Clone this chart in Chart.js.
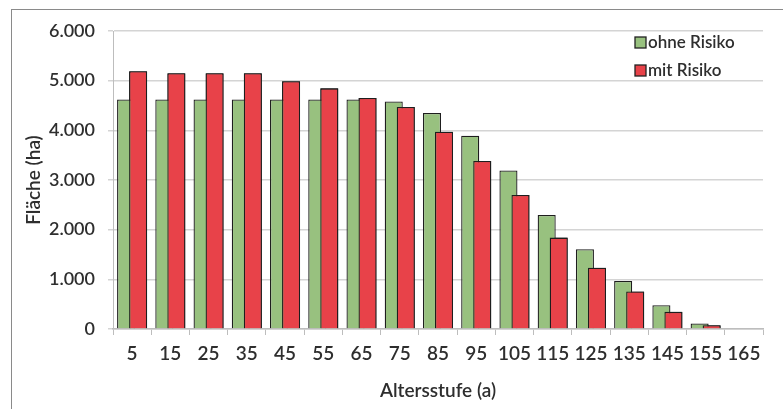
<!DOCTYPE html>
<html><head><meta charset="utf-8">
<script src="https://cdn.jsdelivr.net/npm/chart.js@4/dist/chart.umd.min.js"></script>
<style>
html,body{margin:0;padding:0;background:#fff;}
#wrap{position:relative;width:783px;height:409px;overflow:hidden;}
#frame{position:absolute;left:11px;top:9px;width:800px;height:420px;border:1.5px solid #8a8a8a;box-sizing:border-box;}
canvas{position:absolute;left:0;top:0;}
</style></head>
<body><div id="wrap"><div id="frame"></div><canvas id="c" width="783" height="409"></canvas></div>
<script>
const categories = ['5','15','25','35','45','55','65','75','85','95','105','115','125','135','145','155','165'];
const ohneRisiko = [4620,4620,4620,4620,4620,4620,4620,4580,4350,3890,3190,2295,1605,965,480,110,0];
const mitRisiko  = [5190,5150,5150,5150,4990,4845,4650,4470,3970,3385,2700,1840,1235,755,345,75,0];
const yTicks = [0,1000,2000,3000,4000,5000,6000];
const seriesNames = ['ohne Risiko','mit Risiko'];
const colors = ['#98c17f','#e84249'];

const FONT = 'Lato, "Open Sans", sans-serif';
const TXT = '#2e2e2e';
const legendPlugin = {
  id:'boxLegend',
  afterDatasetsDraw(chart){
    // draw the second series again so it overlaps the first, as in the original
    chart.getDatasetMeta(1).controller.draw();
  },
  afterDraw(chart){
    const ctx = chart.ctx;
    const x0 = 635, ys = [37, 65];
    chart.data.datasets.forEach((ds,i)=>{
      ctx.save();
      ctx.fillStyle = ds.backgroundColor;
      ctx.strokeStyle = '#222';
      ctx.lineWidth = 1.3;
      ctx.fillRect(x0, ys[i], 11, 11);
      ctx.strokeRect(x0, ys[i], 11, 11);
      ctx.fillStyle = TXT;
      ctx.font = '600 17px ' + FONT;
      ctx.textBaseline = 'middle';
      ctx.fillText(ds.label, x0 + 13, ys[i] + 6);
      ctx.restore();
    });
  }
};

new Chart(document.getElementById('c'), {
  type:'bar',
  data:{
    labels: categories,
    datasets:[
      {label: seriesNames[0], data: ohneRisiko, backgroundColor: colors[0], borderColor:'#1e1e1e', borderWidth:1.3, categoryPercentage:0.63, barPercentage:1.5},
      {label: seriesNames[1], data: mitRisiko, backgroundColor: colors[1], borderColor:'#1e1e1e', borderWidth:1.3, categoryPercentage:0.63, barPercentage:1.5}
    ]
  },
  options:{
    responsive:false, animation:false, devicePixelRatio:1,
    layout:{padding:{left:20,right:20,top:31,bottom:5}},
    plugins:{legend:{display:false}, tooltip:{enabled:false}},
    scales:{
      x:{
        grid:{display:true, drawOnChartArea:false, drawTicks:true, tickLength:6, color:'#bdbdbd', offset:true},
        border:{display:true, color:'#bdbdbd', width:1.5},
        ticks:{color:TXT, font:{family:FONT, size:19, weight:'600'}, padding:7, maxRotation:0, autoSkip:false},
        title:{display:true, text:'Altersstufe (a)', color:TXT, font:{family:FONT, size:19, weight:'600'}, padding:{top:0,bottom:2}},
        afterFit(s){ s.height = 75; }
      },
      y:{
        min:0, max:6000,
        afterBuildTicks(s){ s.ticks = yTicks.map(v=>({value:v})); },
        grid:{color:'#d4d4d4', lineWidth:1.5, tickLength:5, drawTicks:true},
        border:{display:true, color:'#bdbdbd', width:1},
        ticks:{color:TXT, font:{family:FONT, size:18, weight:'600'}, padding:13, callback:v=>v.toLocaleString('de-DE')},
        title:{display:true, text:'Fläche (ha)', color:TXT, font:{family:FONT, size:19, weight:'600'}, padding:{top:2,bottom:2}},
        afterFit(s){ s.width = 93; }
      }
    }
  },
  plugins:[legendPlugin]
});
</script></body></html>
